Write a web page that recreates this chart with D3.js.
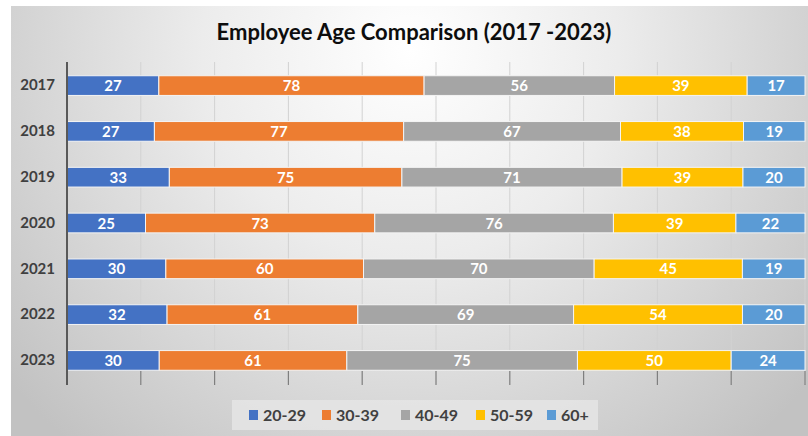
<!DOCTYPE html>
<html><head><meta charset="utf-8">
<script src="https://cdn.jsdelivr.net/npm/d3@7"></script>
<style>html,body{margin:0;padding:0;background:#fff;}svg{display:block;}</style>
</head><body>
<svg id="chart" width="808" height="436"></svg>
<script>
const years = ["2017","2018","2019","2020","2021","2022","2023"];
const groups = ["20-29","30-39","40-49","50-59","60+"];
const s2029 = [27,27,33,25,30,32,30];
const s3039 = [78,77,75,73,60,61,61];
const s4049 = [56,67,71,76,70,69,75];
const s5059 = [39,38,39,39,45,54,50];
const s60p  = [17,19,20,22,19,20,24];
const colors = ["#4472C4","#ED7D31","#A5A5A5","#FFC000","#5B9BD5"];
const title = "Employee Age Comparison (2017 -2023)";

const series = [s2029,s3039,s4049,s5059,s60p];
const rows = years.map((y,i)=>{const r={year:y};groups.forEach((g,j)=>r[g]=series[j][i]);return r;});
const stack = d3.stack().keys(groups).offset(d3.stackOffsetExpand)(rows);

const svg = d3.select("#chart");
const W=808,H=436;
const defs = svg.append("defs");
const rg = defs.append("radialGradient").attr("id","bg").attr("gradientUnits","userSpaceOnUse")
  .attr("cx",410).attr("cy",50).attr("r",520);
rg.append("stop").attr("offset","0").attr("stop-color","#ffffff");
rg.append("stop").attr("offset","0.4").attr("stop-color","#ececec");
rg.append("stop").attr("offset","1").attr("stop-color","#c2c2c2");
svg.append("rect").attr("x",11).attr("y",6).attr("width",W-11).attr("height",H-6).attr("fill","url(#bg)");

const m={l:67,r:805,t:62,b:384};
const x=d3.scaleLinear().domain([0,1]).range([m.l,m.r]);
const y=d3.scaleBand().domain(years).range([m.t,m.b]).paddingInner(0.57).paddingOuter(0.3);

// gridlines
const ticks=d3.range(0,1.0001,0.1);
svg.append("g").selectAll("line").data(ticks).join("line")
  .attr("x1",d=>x(d)).attr("x2",d=>x(d)).attr("y1",m.t).attr("y2",m.b)
  .attr("stroke","#d2d2d2").attr("stroke-width",1);
// tick marks
svg.append("g").selectAll("line").data(ticks).join("line")
  .attr("x1",d=>x(d)).attr("x2",d=>x(d)).attr("y1",m.b-13).attr("y2",m.b+1)
  .attr("stroke","#7f7f7f").attr("stroke-width",1.2);

// bars
const gs=svg.append("g").selectAll("g").data(stack).join("g").attr("fill",(d,i)=>colors[i]);
gs.selectAll("rect").data(d=>d.map(p=>({p,key:d.key}))).join("rect")
  .attr("x",d=>x(d.p[0])).attr("width",d=>x(d.p[1])-x(d.p[0]))
  .attr("y",d=>y(d.p.data.year)).attr("height",y.bandwidth())
  .attr("stroke","#f4f4f4").attr("stroke-width",1);
gs.selectAll("text").data(d=>d.map(p=>({p,key:d.key}))).join("text")
  .attr("x",d=>(x(d.p[0])+x(d.p[1]))/2).attr("y",d=>y(d.p.data.year)+y.bandwidth()/2+5.5)
  .attr("text-anchor","middle").attr("fill","#ffffff")
  .attr("font-family","Lato, 'Open Sans', sans-serif").attr("font-weight","bold").attr("font-size",15)
  .text(d=>d.p.data[d.key]);

// y axis
svg.append("line").attr("x1",m.l).attr("x2",m.l).attr("y1",m.t).attr("y2",m.b+1)
  .attr("stroke","#595959").attr("stroke-width",2);
const yAxis=d3.axisLeft(y).tickSize(0).tickPadding(12);
const ya=svg.append("g").attr("transform",`translate(${m.l},0)`).call(yAxis);
ya.select(".domain").remove();
ya.selectAll("text").attr("font-family","Lato, 'Open Sans', sans-serif").attr("font-weight","bold")
  .attr("font-size",15).attr("fill","#404040");

// title
svg.append("text").attr("x",414).attr("y",40).attr("text-anchor","middle")
  .attr("font-family","Lato, 'Open Sans', sans-serif").attr("font-weight","bold").attr("font-size",22)
  .attr("fill","#0d0d0d").text(title);

// legend
svg.append("rect").attr("x",232).attr("y",400).attr("width",366).attr("height",30).attr("fill","#e6e6e6").attr("opacity",0.8);
const lx=[249,322,401,476,547];
const lg=svg.append("g").selectAll("g").data(groups).join("g").attr("transform",(d,i)=>`translate(${lx[i]},415)`);
lg.append("rect").attr("x",0).attr("y",-5).attr("width",9).attr("height",10).attr("fill",(d,i)=>colors[i]);
lg.append("text").attr("x",14).attr("y",6).attr("font-family","Lato, 'Open Sans', sans-serif")
  .attr("font-weight","bold").attr("font-size",16).attr("fill","#404040").text(d=>d);
</script>
</body></html>
